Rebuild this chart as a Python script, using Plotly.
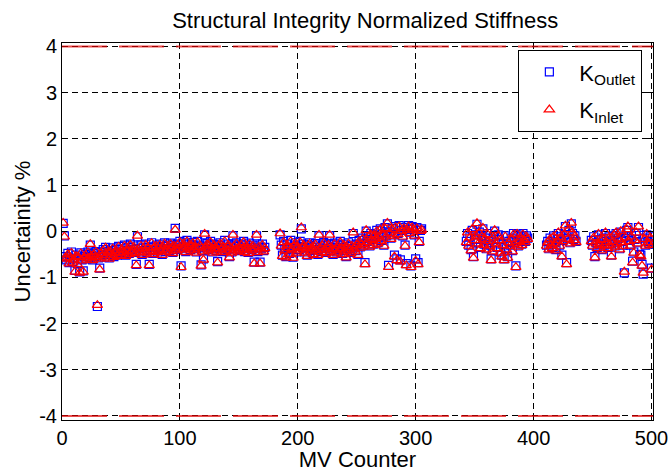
import plotly.graph_objects as go

# MV counter segments (start counter of each contiguous run)
seg_starts = [1, 185, 343, 411, 449]

# K_Outlet uncertainty (%) per segment
outlet_a = [0.17, -0.10, -0.55, -0.62, -0.48, -0.68, -0.58, -0.45, -0.66, -0.60,
            -0.85, -0.52, -0.70, -0.58, -0.88, -0.47, -0.62, -0.86, -0.55, -0.50,
            -0.60, -0.45, -0.57, -0.30, -0.52, -0.62, -0.48, -0.55, -0.44, -1.63,
            -0.58, -0.80, -0.46, -0.52, -0.40, -0.56, -0.35, -0.50, -0.44, -0.58,
            -0.42, -0.50, -0.36, -0.55, -0.47, -0.40, -0.52, -0.33, -0.45, -0.50,
            -0.38, -0.46, -0.30, -0.52, -0.42, -0.35, -0.48, -0.28, -0.44, -0.40,
            -0.32, -0.46, -0.72, -0.12, -0.38, -0.45, -0.30, -0.50, -0.36, -0.42,
            -0.28, -0.46, -0.35, -0.72, -0.40, -0.25, -0.48, -0.34, -0.42, -0.30,
            -0.45, -0.36, -0.28, -0.40, -0.50, -0.33, -0.25, -0.44, -0.38, -0.30,
            -0.42, -0.26, -0.35, -0.46, -0.30, 0.06, -0.40, -0.28, -0.36, -0.22,
            -0.75, -0.38, -0.25, -0.32, -0.44, -0.20, -0.35, -0.28, -0.40, -0.30,
            -0.24, -0.38, -0.33, -0.45, -0.22, -0.36, -0.30, -0.73, -0.42, -0.60,
            -0.08, -0.34, -0.27, -0.40, -0.30, -0.22, -0.38, -0.45, -0.28, -0.35,
            -0.42, -0.66, -0.30, -0.25, -0.38, -0.44, -0.32, -0.20, -0.36, -0.40,
            -0.28, -0.55, -0.34, -0.45, -0.10, -0.30, -0.38, -0.25, -0.42, -0.33,
            -0.40, -0.28, -0.36, -0.22, -0.44, -0.30, -0.38, -0.46, -0.26, -0.35,
            -0.40, -0.30, -0.67, -0.36, -0.10, -0.44, -0.32, -0.67, -0.38, -0.28,
            -0.42, -0.35]
outlet_b = [-0.08, -0.30, -0.52, -0.22, -0.40, -0.55, -0.28, -0.35, -0.48, -0.20,
            -0.38, -0.56, -0.30, -0.25, -0.45, -0.33, -0.40, -0.22, 0.05, -0.35,
            -0.28, -0.45, -0.38, -0.52, -0.30, -0.25, -0.42, -0.35, -0.48, -0.32,
            -0.27, -0.40, -0.50, -0.10, -0.36, -0.44, -0.30, -0.24, -0.38, -0.46,
            -0.32, -0.28, -0.10, -0.42, -0.35, -0.50, -0.26, -0.38, -0.45, -0.30,
            -0.40, -0.22, -0.35, -0.48, -0.28, -0.42, -0.55, -0.33, -0.25, -0.38,
            -0.46, -0.30, -0.05, -0.36, -0.42, -0.28, -0.50, -0.20, -0.34, -0.26,
            -0.15, -0.30, -0.68, 0.00, -0.22, -0.10, -0.32, -0.05, -0.18, -0.28,
            -0.08, -0.15, 0.02, -0.25, -0.12, 0.05, -0.20, -0.06, -0.30, 0.08,
            -0.10, 0.16, -0.74, -0.02, -0.15, 0.06, -0.08, -0.52, 0.10, -0.60,
            -0.05, 0.12, -0.62, 0.02, -0.10, 0.08, -0.30, -0.70, 0.04, 0.12,
            -0.02, -0.75, 0.10, 0.05, -0.08, -0.60, 0.08, -0.68, -0.22, 0.02,
            0.05]
outlet_c = [-0.22, -0.05, -0.30, -0.12, -0.40, 0.02, -0.55, -0.18, -0.08, 0.15,
            -0.25, -0.02, -0.35, -0.10, 0.05, -0.28, -0.15, -0.38, -0.05, -0.20,
            -0.30, -0.60, -0.42, -0.12, 0.00, -0.25, -0.35, -0.08, -0.18, -0.45,
            -0.52, -0.28, -0.60, -0.10, -0.38, -0.55, -0.22, -0.30, -0.15, -0.42,
            -0.05, -0.25, -0.75, -0.08, -0.32, -0.20, -0.12, -0.28, -0.05, -0.18,
            -0.22, -0.10, -0.15]
outlet_d = [-0.30, -0.22, -0.38, -0.15, -0.28, -0.35, -0.10, -0.25, -0.40, -0.18,
            -0.05, -0.30, -0.12, -0.52, -0.20, -0.08, 0.10, -0.68, -0.15, 0.02,
            -0.25, 0.16, -0.05, -0.18, -0.10, -0.22]
outlet_e = [-0.20, -0.30, -0.12, -0.55, -0.25, -0.35, -0.08, -0.28, -0.18, -0.40,
            -0.15, -0.30, -0.05, -0.22, -0.35, -0.12, -0.28, -0.52, -0.20, -0.10,
            -0.32, -0.05, -0.25, -0.15, -0.38, -0.02, -0.22, -0.30, -0.90, -0.12,
            0.02, 0.08, -0.20, -0.30, -0.10, -0.65, -0.45, -0.18, -0.05, -0.25,
            0.08, -0.50, -0.52, -0.72, -0.93, -0.15, -0.30, -0.08, -0.22, -0.27,
            -0.12, -0.80, -0.28]

# K_Inlet uncertainty (%) per segment
inlet_a = [0.18, -0.12, -0.57, -0.60, -0.50, -0.70, -0.57, -0.47, -0.68, -0.62,
           -0.88, -0.54, -0.72, -0.56, -0.90, -0.48, -0.64, -0.88, -0.57, -0.52,
           -0.62, -0.46, -0.58, -0.28, -0.54, -0.63, -0.50, -0.56, -0.45, -1.60,
           -0.60, -0.83, -0.48, -0.53, -0.42, -0.57, -0.36, -0.52, -0.45, -0.60,
           -0.44, -0.52, -0.38, -0.56, -0.48, -0.42, -0.54, -0.34, -0.46, -0.52,
           -0.40, -0.47, -0.32, -0.54, -0.43, -0.36, -0.50, -0.30, -0.45, -0.42,
           -0.34, -0.48, -0.74, -0.10, -0.40, -0.46, -0.32, -0.52, -0.37, -0.44,
           -0.30, -0.47, -0.36, -0.74, -0.42, -0.26, -0.50, -0.35, -0.44, -0.32,
           -0.46, -0.38, -0.30, -0.42, -0.52, -0.34, -0.27, -0.45, -0.40, -0.32,
           -0.44, -0.28, -0.36, -0.48, -0.32, 0.03, -0.42, -0.30, -0.38, -0.24,
           -0.78, -0.40, -0.27, -0.34, -0.46, -0.22, -0.36, -0.30, -0.42, -0.32,
           -0.26, -0.40, -0.35, -0.47, -0.24, -0.38, -0.32, -0.75, -0.44, -0.62,
           -0.06, -0.36, -0.29, -0.42, -0.32, -0.24, -0.40, -0.47, -0.30, -0.37,
           -0.44, -0.68, -0.32, -0.27, -0.40, -0.46, -0.34, -0.22, -0.38, -0.42,
           -0.30, -0.57, -0.36, -0.47, -0.08, -0.32, -0.40, -0.27, -0.44, -0.35,
           -0.42, -0.30, -0.38, -0.24, -0.46, -0.32, -0.40, -0.48, -0.28, -0.37,
           -0.42, -0.32, -0.70, -0.38, -0.08, -0.46, -0.34, -0.70, -0.40, -0.30,
           -0.44, -0.37]
inlet_b = [-0.05, -0.32, -0.54, -0.24, -0.42, -0.57, -0.30, -0.37, -0.50, -0.22,
           -0.40, -0.58, -0.32, -0.27, -0.47, -0.35, -0.42, -0.24, 0.08, -0.37,
           -0.30, -0.47, -0.40, -0.54, -0.32, -0.27, -0.44, -0.37, -0.50, -0.34,
           -0.29, -0.42, -0.52, -0.08, -0.38, -0.46, -0.32, -0.26, -0.40, -0.48,
           -0.34, -0.30, -0.08, -0.44, -0.37, -0.52, -0.28, -0.40, -0.47, -0.32,
           -0.42, -0.24, -0.37, -0.50, -0.30, -0.44, -0.57, -0.35, -0.27, -0.40,
           -0.48, -0.32, -0.03, -0.38, -0.44, -0.30, -0.52, -0.22, -0.36, -0.28,
           -0.17, -0.32, -0.72, 0.02, -0.24, -0.12, -0.34, -0.07, -0.20, -0.30,
           -0.10, -0.17, 0.00, -0.27, -0.14, 0.03, -0.22, -0.08, -0.32, 0.06,
           -0.12, 0.18, -0.78, -0.04, -0.17, 0.04, -0.10, -0.55, 0.08, -0.63,
           -0.07, 0.10, -0.66, 0.00, -0.12, 0.06, -0.32, -0.74, 0.02, 0.10,
           -0.04, -0.78, 0.08, 0.03, -0.10, -0.64, 0.06, -0.72, -0.24, 0.00,
           0.03]
inlet_c = [-0.24, -0.03, -0.32, -0.14, -0.42, 0.04, -0.58, -0.20, -0.10, 0.17,
           -0.27, -0.04, -0.37, -0.12, 0.07, -0.30, -0.17, -0.40, -0.07, -0.22,
           -0.32, -0.63, -0.44, -0.14, 0.02, -0.27, -0.37, -0.10, -0.20, -0.47,
           -0.55, -0.30, -0.63, -0.12, -0.40, -0.58, -0.24, -0.32, -0.17, -0.44,
           -0.07, -0.27, -0.78, -0.06, -0.34, -0.22, -0.14, -0.30, -0.07, -0.20,
           -0.24, -0.12, -0.17]
inlet_d = [-0.32, -0.24, -0.40, -0.17, -0.30, -0.37, -0.12, -0.27, -0.42, -0.20,
           -0.03, -0.32, -0.14, -0.55, -0.22, -0.06, 0.12, -0.72, -0.17, 0.04,
           -0.27, 0.18, -0.03, -0.20, -0.12, -0.24]
inlet_e = [-0.22, -0.32, -0.14, -0.57, -0.27, -0.37, -0.06, -0.30, -0.20, -0.42,
           -0.17, -0.32, -0.03, -0.24, -0.37, -0.14, -0.30, -0.55, -0.22, -0.08,
           -0.34, -0.03, -0.27, -0.17, -0.40, 0.00, -0.24, -0.32, -0.88, -0.14,
           0.04, 0.10, -0.22, -0.32, -0.12, -0.68, -0.47, -0.20, -0.03, -0.27,
           0.10, -0.52, -0.55, -0.75, -0.90, -0.17, -0.32, -0.06, -0.24, -0.29,
           -0.14, -0.83, -0.30]

limit_values = [4, -4]
x_ticks = [0, 100, 200, 300, 400, 500]
y_ticks = [-4, -3, -2, -1, 0, 1, 2, 3, 4]
y_tick_labels = ["-4", "-3", "-2", "-1", "0", "1", "2", "3", "4"]

outlet_segs = [outlet_a, outlet_b, outlet_c, outlet_d, outlet_e]
inlet_segs = [inlet_a, inlet_b, inlet_c, inlet_d, inlet_e]


def counters(segs):
    xs = []
    for start, vals in zip(seg_starts, segs):
        xs += list(range(start, start + len(vals)))
    return xs


def flat(segs):
    out = []
    for s in segs:
        out += s
    return out


FONT = "Liberation Sans, Arial, sans-serif"

fig = go.Figure()
fig.add_trace(go.Scatter(
    x=counters(outlet_segs), y=flat(outlet_segs), mode="markers",
    name="K<sub>Outlet</sub>", legendgroup="outlet",
    marker=dict(symbol="square-open", size=8, color="#0000ff",
                line=dict(width=1.2, color="#0000ff")),
))
fig.add_trace(go.Scatter(
    x=counters(inlet_segs), y=flat(inlet_segs), mode="markers",
    name="K<sub>Inlet</sub>", legendgroup="inlet",
    marker=dict(symbol="triangle-up-open", size=9, color="#ff0000",
                line=dict(width=1.2, color="#ff0000")),
))

for lv in limit_values:
    fig.add_shape(type="line", xref="paper", x0=0, x1=1, yref="y", y0=lv, y1=lv,
                  line=dict(color="rgba(225,0,0,0.7)", width=2, dash="45px,12px"),
                  layer="above")

axis_common = dict(
    showgrid=True, gridcolor="black", gridwidth=1, griddash="6px,4px",
    showline=True, linecolor="black", linewidth=1, mirror="allticks",
    ticks="inside", ticklen=5, tickcolor="black", zeroline=False,
    tickfont=dict(family=FONT, size=20, color="black"),
    automargin=False,
)

fig.update_xaxes(range=[0, 501.3], tickvals=x_ticks, **axis_common,
                 title=dict(text="MV Counter", font=dict(family=FONT, size=22, color="black"),
                            standoff=2))
fig.update_yaxes(range=[-4.087, 4.074], tickvals=y_ticks, ticktext=y_tick_labels,
                 **axis_common,
                 title=dict(text="Uncertainity %", font=dict(family=FONT, size=22, color="black"),
                            standoff=2))

fig.update_layout(
    width=670, height=472,
    margin=dict(l=62, r=17, t=43, b=52),
    paper_bgcolor="white", plot_bgcolor="white",
    font=dict(family=FONT, color="black"),
    title=dict(text="Structural Integrity Normalized Stiffness", x=0.513, xref="paper",
               xanchor="center", y=1 - 20 / 472, yref="container", yanchor="middle",
               font=dict(family=FONT, size=22, color="black"), automargin=False),
    legend=dict(x=0.982, xanchor="right", y=0.981, yanchor="top",
                bordercolor="black", borderwidth=1, bgcolor="white",
                font=dict(family=FONT, size=22, color="black"),
                itemwidth=50, tracegroupgap=6),
    showlegend=True,
)

fig.write_html("out.html", config={"displayModeBar": False},
               post_script="document.body.style.margin='0';document.body.style.overflow='hidden';")
